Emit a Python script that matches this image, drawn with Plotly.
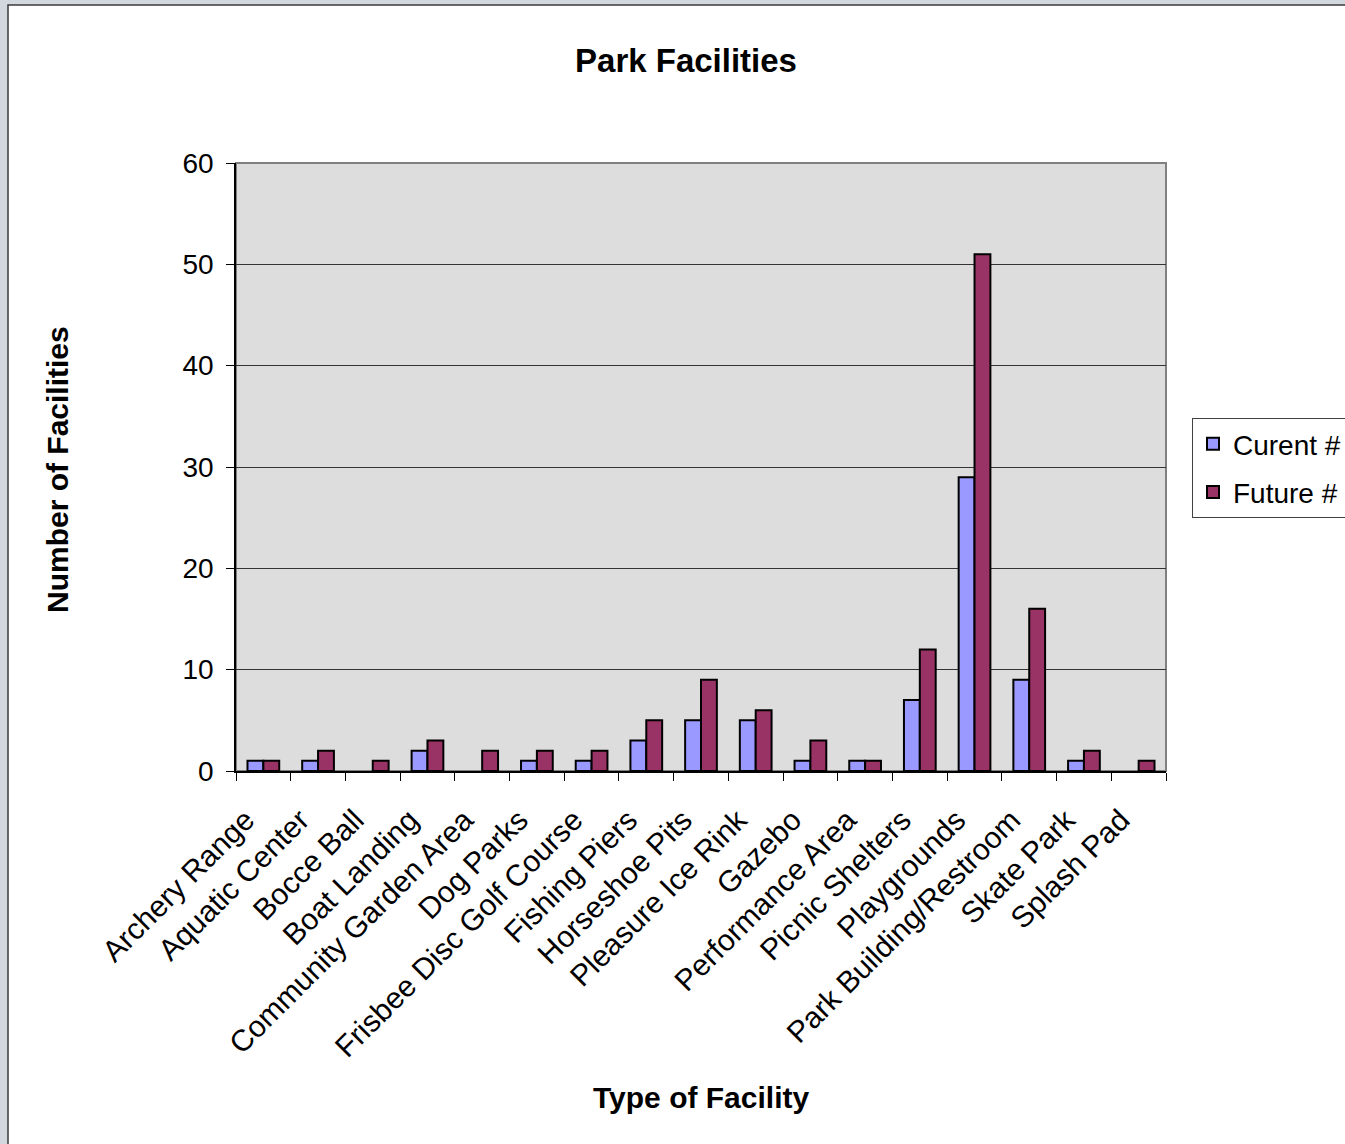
import plotly.graph_objects as go

categories = ["Archery Range", "Aquatic Center", "Bocce Ball", "Boat Landing",
              "Community Garden Area", "Dog Parks", "Frisbee Disc Golf Course",
              "Fishing Piers", "Horseshoe Pits", "Pleasure Ice Rink", "Gazebo",
              "Performance Area", "Picnic Shelters", "Playgrounds",
              "Park Building/Restroom", "Skate Park", "Splash Pad"]
current = [1, 1, 0, 2, 0, 1, 1, 3, 5, 5, 1, 1, 7, 29, 9, 1, 0]
future = [1, 2, 1, 3, 2, 2, 2, 5, 9, 6, 3, 1, 12, 51, 16, 2, 1]
y_ticks = [0, 10, 20, 30, 40, 50, 60]

FONT = "Liberation Sans, Arial, sans-serif"
W, H = 1345, 1144
L, R, T, B = 236, 1166, 163, 771   # plot area pixel box
pw, ph = R - L, B - T


def px(x):
    return (x - L) / pw


def py(y):
    return (B - y) / ph


def outline(vals):
    return [0 if v == 0 else 2 for v in vals]


fig = go.Figure()
fig.add_trace(go.Bar(name="Curent #", x=categories, y=current,
                     marker=dict(color="#9999ff",
                                 line=dict(color="#000000", width=outline(current))),
                     legendgroup="a"))
fig.add_trace(go.Bar(name="Future #", x=categories, y=future,
                     marker=dict(color="#993366",
                                 line=dict(color="#000000", width=outline(future))),
                     legendgroup="b"))

fig.update_layout(
    width=W, height=H,
    margin=dict(l=L, r=W - R, t=T, b=H - B, autoexpand=False),
    paper_bgcolor="#d3d8de",
    plot_bgcolor="rgba(0,0,0,0)",
    barmode="group", bargap=0.42, bargroupgap=0,
    font=dict(family=FONT, color="#000000"),
    title=dict(text="<b>Park Facilities</b>", x=686 / W, xref="container", xanchor="center",
               y=1 - 60 / H, yref="container", yanchor="middle",
               font=dict(size=33, family=FONT, color="#000000")),
    legend=dict(x=px(1192), y=py(418), xanchor="left", yanchor="top",
                bgcolor="#ffffff", bordercolor="#404040", borderwidth=1,
                font=dict(size=28, family=FONT), tracegroupgap=9,
                traceorder="grouped"),
    showlegend=True,
)

fig.update_yaxes(range=[0, 60], tickvals=y_ticks, ticks="outside", ticklen=8,
                 tickcolor="#000000", tickwidth=1, showline=True, linecolor="#000000",
                 linewidth=1.5, showgrid=True, gridcolor="#333333", gridwidth=1,
                 zeroline=False, tickfont=dict(size=28, family=FONT),
                 ticklabelstandoff=7)
fig.update_xaxes(ticks="outside", tickson="boundaries", ticklen=8, tickcolor="#000000",
                 tickwidth=1, showline=True, linecolor="#000000", linewidth=1.5,
                 tickangle=-45, tickfont=dict(size=30, family=FONT), showgrid=False,
                 tickmode="array", tickvals=categories,
                 ticktext=[c + "\u00a0\u00a0\u00a0" for c in categories])

# outer white chart frame and gray plot area
fig.add_shape(type="rect", xref="paper", yref="paper",
              x0=px(8), x1=px(1500), y0=py(1300), y1=py(5),
              fillcolor="#ffffff", line=dict(color="#3a3a3a", width=1.5), layer="below")
fig.add_shape(type="rect", xref="paper", yref="paper",
              x0=0, x1=1, y0=0, y1=1,
              fillcolor="#dddddd", line=dict(color="#808080", width=2), layer="below")

fig.add_annotation(text="<b>Type of Facility</b>", xref="paper", yref="paper",
                   x=px(701), y=py(1097), xanchor="center", yanchor="middle",
                   showarrow=False, font=dict(size=30, family=FONT))
fig.add_annotation(text="<b>Number of Facilities</b>", xref="paper", yref="paper",
                   x=px(58), y=py(470), xanchor="center", yanchor="middle",
                   textangle=-90, showarrow=False, font=dict(size=30, family=FONT))

fig.write_html("out.html")
